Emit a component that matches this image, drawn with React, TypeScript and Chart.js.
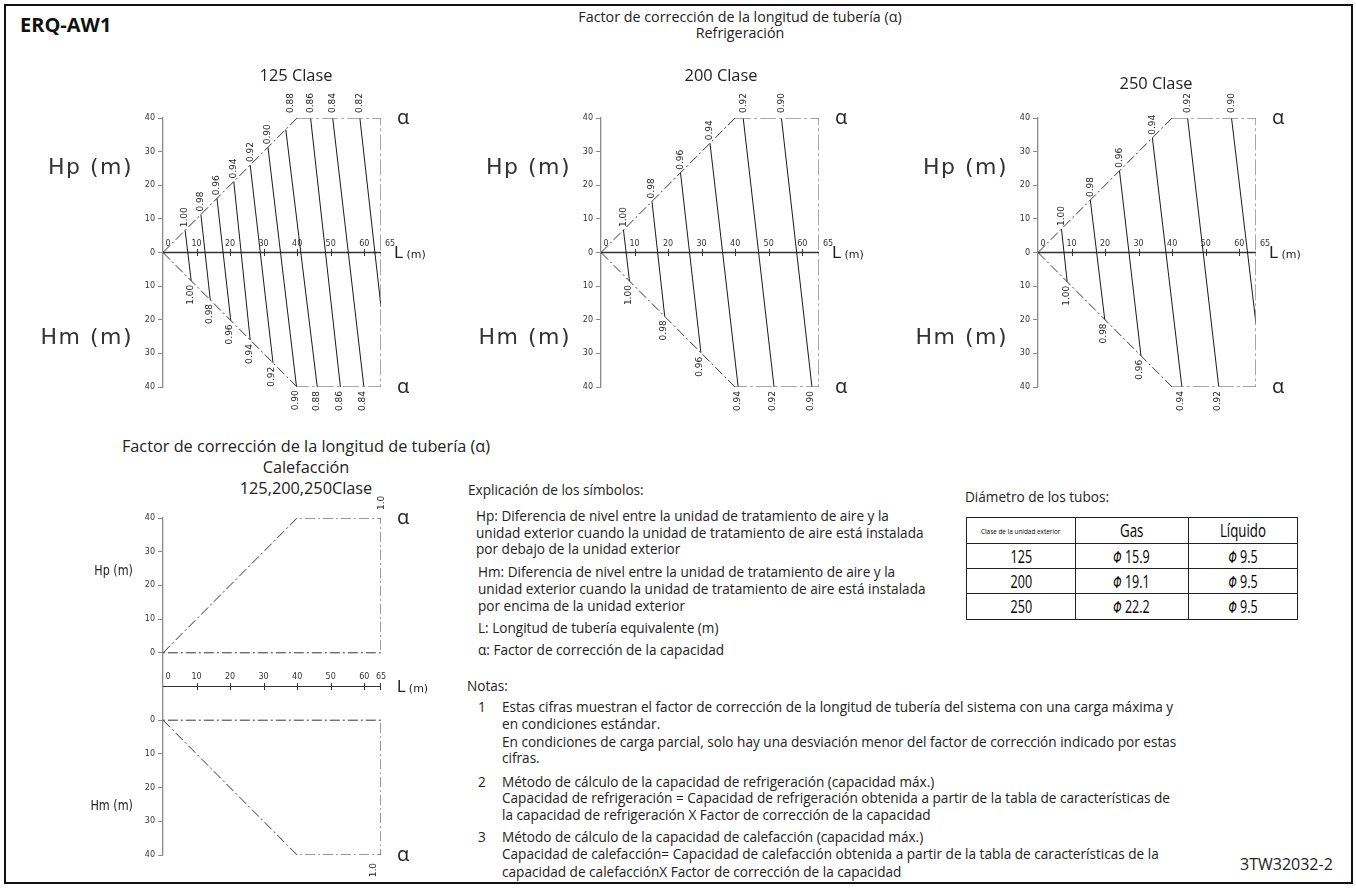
import React, { useEffect, useRef } from 'react';
import { Chart, registerables } from 'chart.js';

Chart.register(...registerables);

// ---------------- data ----------------
const lengthTickValues = [10, 20, 30, 40, 50, 60];
const lengthLabelValues = [0, 10, 20, 30, 40, 50, 60, 65];
const lengthLabels = ['0', '10', '20', '30', '40', '50', '60', '65'];
const heatTickValues = [10, 20, 30, 40, 50, 60, 65];

// refrigeration envelope (L, H) : H>0 = Hp, H<0 = Hm
const coolEnvelopeL = [0, 40, 65, 65, 40, 0];
const coolEnvelopeH = [0, 40, 40, -40, -40, 0];

// 125 class iso-lines (alpha)
const alpha125 = ['1.00', '0.98', '0.96', '0.94', '0.92', '0.90', '0.88', '0.86', '0.84', '0.82'];
const top125L = [6.6, 11.3, 16.1, 21.1, 26.0, 31.3, 36.6, 44.0, 50.6, 58.7];
const top125H = [6.6, 11.3, 16.1, 21.1, 26.0, 31.3, 36.6, 40, 40, 40];
const bot125L = [8.4, 14.1, 20.2, 26.0, 32.8, 39.8, 46.0, 52.9, 59.9, 65];
const bot125H = [-8.4, -14.1, -20.2, -26.0, -32.8, -39.8, -40, -40, -40, -16.2];

// 200 class iso-lines
const alpha200 = ['1.00', '0.98', '0.96', '0.94', '0.92', '0.90'];
const top200L = [6.7, 15.2, 23.7, 32.5, 42.4, 53.8];
const top200H = [6.7, 15.2, 23.7, 32.5, 40, 40];
const bot200L = [8.5, 19.0, 29.8, 40.9, 51.6, 62.9];
const bot200H = [-8.5, -19.0, -29.8, -40, -40, -40];

// 250 class iso-lines
const alpha250 = ['1.00', '0.98', '0.96', '0.94', '0.92', '0.90'];
const top250L = [7.0, 15.6, 24.3, 34.1, 44.6, 57.7];
const top250H = [7.0, 15.6, 24.3, 34.1, 40, 40];
const bot250L = [8.7, 19.9, 30.7, 42.9, 53.9, 65];
const bot250H = [-8.7, -19.9, -30.7, -40, -40, -21.2];

// heating envelope (all classes)
const heatUpperL = [0, 40, 65, 65, 0];
const heatUpperH = [0, 40, 40, 0, 0];
const heatLowerL = [0, 40, 65, 65, 0];
const heatLowerH = [0, -40, -40, 0, 0];
const heatAlpha = '1.0';

// pipe diameters
const pipeClasses = ['125', '200', '250'];
const pipeGas = ['15.9', '19.1', '22.2'];
const pipeLiquid = ['9.5', '9.5', '9.5'];

// ---------------- layout / style ----------------
const FONT_BODY = "'Open Sans', 'Noto Sans', sans-serif";
const FONT_DRAW = "'DejaVu Sans', sans-serif";
const PAD = { l: 60, t: 45, r: 45, b: 40 };
const DASH_DIAG = [10, 3, 2, 3];
const DASH_RECT = [16, 3, 3, 3];
const HEAT_GAP = 10;
const BODY_SIZE = 13.6;

type Plot = { x: number; y: number; w: number; h: number };
type Iso = { alpha: string[]; topL: number[]; topH: number[]; botL: number[]; botH: number[] };

const COOL_PLOTS: Plot[] = [
  { x: 163, y: 118, w: 218, h: 269 },
  { x: 601, y: 118, w: 218, h: 269 },
  { x: 1038, y: 118, w: 218, h: 269 },
];
const HEAT_PLOT: Plot = { x: 163, y: 518, w: 218, h: 337 };

const ISOS: Iso[] = [
  { alpha: alpha125, topL: top125L, topH: top125H, botL: bot125L, botH: bot125H },
  { alpha: alpha200, topL: top200L, topH: top200H, botL: bot200L, botH: bot200H },
  { alpha: alpha250, topL: top250L, topH: top250H, botL: bot250L, botH: bot250H },
];

const pts = (L: number[], H: number[], dy = 0) => L.map((l, i) => ({ x: l, y: H[i] + dy }));

function lineDs(data: any[], color: string, width: number, dash: number[] = []) {
  return {
    data,
    showLine: true,
    borderColor: color,
    backgroundColor: color,
    borderWidth: width,
    borderDash: dash,
    pointRadius: 0,
    fill: false,
    tension: 0,
  };
}

function rotText(ctx: CanvasRenderingContext2D, text: string, x: number, y: number, align: CanvasTextAlign) {
  ctx.save();
  ctx.translate(x, y);
  ctx.rotate(-Math.PI / 2);
  ctx.textAlign = align;
  ctx.textBaseline = 'middle';
  ctx.fillText(text, 0, 0);
  ctx.restore();
}

function baseOptions(yMin: number, yMax: number, tickCb: (v: number) => string, filterZero: boolean) {
  return {
    responsive: false,
    maintainAspectRatio: false,
    animation: false as const,
    devicePixelRatio: 1,
    events: [] as any[],
    layout: { padding: { left: 0, top: PAD.t, right: PAD.r, bottom: PAD.b } },
    plugins: { legend: { display: false }, tooltip: { enabled: false }, title: { display: false } },
    scales: {
      x: { type: 'linear' as const, min: 0, max: 65, display: false },
      y: {
        type: 'linear' as const,
        min: yMin,
        max: yMax,
        afterFit: (s: any) => {
          s.width = PAD.l;
        },
        afterBuildTicks: (s: any) => {
          if (filterZero) s.ticks = s.ticks.filter((t: any) => t.value !== 0);
        },
        ticks: {
          stepSize: 10,
          autoSkip: false,
          callback: (v: any) => tickCb(Number(v)),
          font: { family: FONT_DRAW, size: 8 },
          color: '#333',
          padding: 3,
        },
        grid: { drawOnChartArea: false, drawTicks: true, tickLength: 5, color: '#8a8a8a', lineWidth: 1 },
        border: { display: true, color: '#8a8a8a', width: 1.3 },
      },
    },
  };
}

function coolConfig(iso: Iso): any {
  const env = pts(coolEnvelopeL, coolEnvelopeH);
  const datasets: any[] = [
    lineDs(env.slice(0, 2), '#333', 1, DASH_DIAG),
    lineDs(env.slice(1, 5), '#8a8a8a', 1.5, DASH_RECT),
    lineDs(env.slice(4, 6), '#333', 1, DASH_DIAG),
  ];
  iso.alpha.forEach((_, i) => {
    datasets.push(
      lineDs(
        [
          { x: iso.topL[i], y: iso.topH[i] },
          { x: iso.botL[i], y: iso.botH[i] },
        ],
        '#1a1a1a',
        1
      )
    );
  });
  datasets.push(lineDs(pts([0, 65], [0, 0]), '#333', 1.3));

  const plugin = {
    id: 'coolMarks',
    afterDatasetsDraw(chart: any) {
      const { ctx } = chart;
      const x = chart.scales.x;
      const y = chart.scales.y;
      const y0 = y.getPixelForValue(0);
      ctx.save();
      ctx.strokeStyle = '#333';
      ctx.lineWidth = 1;
      lengthTickValues.forEach((v) => {
        const px = Math.round(x.getPixelForValue(v)) + 0.5;
        ctx.beginPath();
        ctx.moveTo(px, y0 - 3.5);
        ctx.lineTo(px, y0 + 3.5);
        ctx.stroke();
      });
      ctx.fillStyle = '#333';
      ctx.font = `8px ${FONT_DRAW}`;
      ctx.textAlign = 'center';
      ctx.textBaseline = 'alphabetic';
      lengthLabelValues.forEach((v, i) => {
        let px = x.getPixelForValue(v);
        if (v === 0) px += 5;
        if (v === 65) px += 9;
        ctx.fillText(lengthLabels[i], px, y0 - 7);
      });
      ctx.font = `9px ${FONT_DRAW}`;
      ctx.fillStyle = '#222';
      const yTop = y.getPixelForValue(40);
      iso.alpha.forEach((a, i) => {
        const tx = x.getPixelForValue(iso.topL[i]);
        const ty = y.getPixelForValue(iso.topH[i]);
        let ax = tx;
        let ay = ty - 3;
        if (iso.topH[i] >= 40) ay = yTop - 5;
        else if (iso.topH[i] > 35) {
          ax = tx + 5;
          ay = yTop - 5;
        }
        rotText(ctx, a, ax, ay, 'left');
        if (iso.botL[i] < 65) {
          const bx = x.getPixelForValue(iso.botL[i]);
          const by = y.getPixelForValue(iso.botH[i]);
          rotText(ctx, a, bx - 1, by + 4, 'right');
        }
      });
      ctx.restore();
    },
  };

  return {
    type: 'scatter',
    data: { datasets },
    options: baseOptions(-40, 40, (v) => String(Math.abs(v)), false),
    plugins: [plugin],
  };
}

function heatConfig(): any {
  const up = pts(heatUpperL, heatUpperH, HEAT_GAP);
  const lo = pts(heatLowerL, heatLowerH, -HEAT_GAP);
  const datasets: any[] = [
    lineDs(up, '#333', 1, DASH_DIAG),
    lineDs(lo, '#333', 1, DASH_DIAG),
    lineDs(pts([0, 65], [0, 0]), '#333', 1.2),
  ];
  const plugin = {
    id: 'heatMarks',
    afterDatasetsDraw(chart: any) {
      const { ctx } = chart;
      const x = chart.scales.x;
      const y = chart.scales.y;
      const y0 = y.getPixelForValue(0);
      ctx.save();
      ctx.strokeStyle = '#333';
      ctx.lineWidth = 1;
      heatTickValues.forEach((v) => {
        const px = Math.round(x.getPixelForValue(v)) - (v === 65 ? 0.5 : -0.5);
        ctx.beginPath();
        ctx.moveTo(px, y0 - 3.5);
        ctx.lineTo(px, y0 + 3.5);
        ctx.stroke();
      });
      ctx.fillStyle = '#333';
      ctx.font = `8px ${FONT_DRAW}`;
      ctx.textAlign = 'center';
      ctx.textBaseline = 'alphabetic';
      lengthLabelValues.forEach((v, i) => {
        let px = x.getPixelForValue(v);
        if (v === 0) px += 5;
        ctx.fillText(lengthLabels[i], px, y0 - 8);
      });
      ctx.font = `9px ${FONT_DRAW}`;
      ctx.fillStyle = '#222';
      const xr = x.getPixelForValue(65);
      rotText(ctx, heatAlpha, xr + 1, y.getPixelForValue(40 + HEAT_GAP) - 8, 'left');
      rotText(ctx, heatAlpha, xr - 7, y.getPixelForValue(-40 - HEAT_GAP) + 8, 'right');
      ctx.restore();
    },
  };
  return {
    type: 'scatter',
    data: { datasets },
    options: baseOptions(-40 - HEAT_GAP, 40 + HEAT_GAP, (v) => (Math.abs(v) >= HEAT_GAP ? String(Math.abs(v) - HEAT_GAP) : ''), true),
    plugins: [plugin],
  };
}

function Diagram({ plot, build }: { plot: Plot; build: () => any }) {
  const ref = useRef<HTMLCanvasElement>(null);
  useEffect(() => {
    const chart = new Chart(ref.current as HTMLCanvasElement, build());
    return () => chart.destroy();
  }, []);
  const w = plot.w + PAD.l + PAD.r;
  const h = plot.h + PAD.t + PAD.b;
  return (
    <canvas
      ref={ref}
      width={w}
      height={h}
      style={{ position: 'absolute', left: plot.x - PAD.l, top: plot.y - PAD.t, width: w, height: h }}
    />
  );
}

function T(props: {
  x: number;
  y: number;
  size?: number;
  align?: 'left' | 'center' | 'right';
  family?: string;
  weight?: number;
  color?: string;
  sx?: number;
  children: React.ReactNode;
}) {
  const { x, y, size = 12, align = 'left', family = FONT_BODY, weight = 400, color = '#222', sx = 1, children } = props;
  const tx = align === 'center' ? '-50%' : align === 'right' ? '-100%' : '0';
  const origin = align === 'center' ? 'center center' : align === 'right' ? 'right center' : 'left center';
  return (
    <div
      style={{
        position: 'absolute',
        left: x,
        top: y,
        transform: `translate(${tx}, -50%) scaleX(${sx})`,
        transformOrigin: origin,
        fontFamily: family,
        fontSize: size,
        fontWeight: weight,
        color,
        whiteSpace: 'nowrap',
        lineHeight: 1.2,
      }}
    >
      {children}
    </div>
  );
}

const classTitles = ['125 Clase', '200 Clase', '250 Clase'];
const classTitleX = [296, 721, 1156];
const classTitleY = [75, 75, 83];

function Phi({ v }: { v: string }) {
  return (
    <>
      <span style={{ fontStyle: 'italic', fontFamily: FONT_DRAW, fontSize: 16 }}>Φ</span> {v}
    </>
  );
}

export default function App() {
  const explLines: [number, number, string][] = [
    [468, 490, 'Explicación de los símbolos:'],
    [476, 516, 'Hp: Diferencia de nivel entre la unidad de tratamiento de aire y la'],
    [476, 533, 'unidad exterior cuando la unidad de tratamiento de aire está instalada'],
    [476, 549, 'por debajo de la unidad exterior'],
    [478, 572, 'Hm: Diferencia de nivel entre la unidad de tratamiento de aire y la'],
    [478, 589, 'unidad exterior cuando la unidad de tratamiento de aire está instalada'],
    [478, 606, 'por encima de la unidad exterior'],
    [478, 628, 'L: Longitud de tubería equivalente (m)'],
    [478, 650, 'α: Factor de corrección de la capacidad'],
    [467, 686, 'Notas:'],
    [478, 707, '1'],
    [502, 707, 'Estas cifras muestran el factor de corrección de la longitud de tubería del sistema con una carga máxima y'],
    [502, 724, 'en condiciones estándar.'],
    [502, 742, 'En condiciones de carga parcial, solo hay una desviación menor del factor de corrección indicado por estas'],
    [502, 758, 'cifras.'],
    [478, 782, '2'],
    [502, 782, 'Método de cálculo de la capacidad de refrigeración (capacidad máx.)'],
    [502, 798, 'Capacidad de refrigeración = Capacidad de refrigeración obtenida a partir de la tabla de características de'],
    [502, 815, 'la capacidad de refrigeración X Factor de corrección de la capacidad'],
    [478, 837, '3'],
    [502, 837, 'Método de cálculo de la capacidad de calefacción (capacidad máx.)'],
    [502, 854, 'Capacidad de calefacción= Capacidad de calefacción obtenida a partir de la tabla de características de la'],
    [502, 872, 'capacidad de calefacciónX Factor de corrección de la capacidad'],
  ];

  const tableX = 966;
  const colW = [108, 112, 108];
  const rowY = [517, 543, 568, 593, 619];
  const cellBorder = '1.3px solid #222';

  return (
    <div style={{ position: 'absolute', left: 0, top: 0, width: 1356, height: 888, background: '#fff', overflow: 'hidden' }}>
      <div style={{ position: 'absolute', left: 4, top: 4, width: 1345, height: 876, border: '2px solid #111' }} />

      <T x={20} y={25} size={20} weight={700} color="#111">ERQ-AW1</T>
      <T x={740} y={17} size={14.3} align="center">Factor de corrección de la longitud de tubería (α)</T>
      <T x={740} y={33} size={14.3} align="center">Refrigeración</T>

      {COOL_PLOTS.map((p, i) => (
        <React.Fragment key={i}>
          <Diagram plot={p} build={() => coolConfig(ISOS[i])} />
          <T x={classTitleX[i]} y={classTitleY[i]} size={16.4} align="center">{classTitles[i]}</T>
          <T x={p.x - 30} y={167} size={22} align="right" family={FONT_DRAW} color="#333">
            <span style={{ letterSpacing: 1.5 }}>Hp (m)</span>
          </T>
          <T x={p.x - 30} y={337} size={22} align="right" family={FONT_DRAW} color="#333">
            <span style={{ letterSpacing: 1.5 }}>Hm (m)</span>
          </T>
          <T x={p.x + p.w + 16} y={p.y - 1} size={20} family={FONT_BODY}>α</T>
          <T x={p.x + p.w + 16} y={p.y + p.h - 1} size={20} family={FONT_BODY}>α</T>
          <T x={p.x + p.w + 13} y={253} family={FONT_DRAW}>
            <span style={{ fontSize: 16 }}>L</span>
            <span style={{ fontSize: 11 }}> (m)</span>
          </T>
        </React.Fragment>
      ))}

      <T x={306} y={447} size={16.3} align="center">Factor de corrección de la longitud de tubería (α)</T>
      <T x={306} y={468} size={16.3} align="center">Calefacción</T>
      <T x={306} y={489} size={16.3} align="center">125,200,250Clase</T>
      <Diagram plot={HEAT_PLOT} build={heatConfig} />
      <T x={HEAT_PLOT.x - 30} y={570} size={14} sx={0.8} align="right" family={FONT_DRAW}>Hp (m)</T>
      <T x={HEAT_PLOT.x - 30} y={805} size={14} sx={0.8} align="right" family={FONT_DRAW}>Hm (m)</T>
      <T x={HEAT_PLOT.x + HEAT_PLOT.w + 16} y={517} size={20}>α</T>
      <T x={HEAT_PLOT.x + HEAT_PLOT.w + 16} y={854} size={20}>α</T>
      <T x={HEAT_PLOT.x + HEAT_PLOT.w + 16} y={687} family={FONT_DRAW}>
        <span style={{ fontSize: 15 }}>L</span>
        <span style={{ fontSize: 11 }}> (m)</span>
      </T>

      {explLines.map(([x, y, s], i) => (
        <T key={i} x={x} y={y} size={BODY_SIZE}>{s}</T>
      ))}

      <T x={965} y={497} size={BODY_SIZE}>Diámetro de los tubos:</T>
      <div style={{ position: 'absolute', left: tableX, top: rowY[0] }}>
        <table style={{ borderCollapse: 'collapse', border: cellBorder, tableLayout: 'fixed' }}>
          <tbody>
            <tr style={{ height: rowY[1] - rowY[0] }}>
              {[
                { t: 'Clase de la unidad exterior', s: 8, sx: 0.8 },
                { t: 'Gas', s: 19, sx: 0.7 },
                { t: 'Líquido', s: 19, sx: 0.7 },
              ].map((c, j) => (
                <td key={j} style={{ width: colW[j], padding: 0, border: cellBorder, textAlign: 'center', fontFamily: FONT_BODY, fontSize: c.s, lineHeight: 1 }}>
                  <span style={{ display: 'inline-block', transform: `scaleX(${c.sx})`, whiteSpace: 'nowrap' }}>{c.t}</span>
                </td>
              ))}
            </tr>
            {pipeClasses.map((cl, r) => (
              <tr key={r} style={{ height: rowY[r + 2] - rowY[r + 1] }}>
                {[cl, pipeGas[r], pipeLiquid[r]].map((t, j) => (
                  <td key={j} style={{ width: colW[j], padding: 0, border: cellBorder, textAlign: 'center', fontFamily: FONT_BODY, fontSize: 19, lineHeight: 1 }}>
                    <span style={{ display: 'inline-block', transform: 'scaleX(0.66)', whiteSpace: 'nowrap' }}>
                      {j === 0 ? t : <Phi v={t} />}
                    </span>
                  </td>
                ))}
              </tr>
            ))}
          </tbody>
        </table>
      </div>

      <T x={1240} y={865} size={16}>3TW32032-2</T>
    </div>
  );
}
